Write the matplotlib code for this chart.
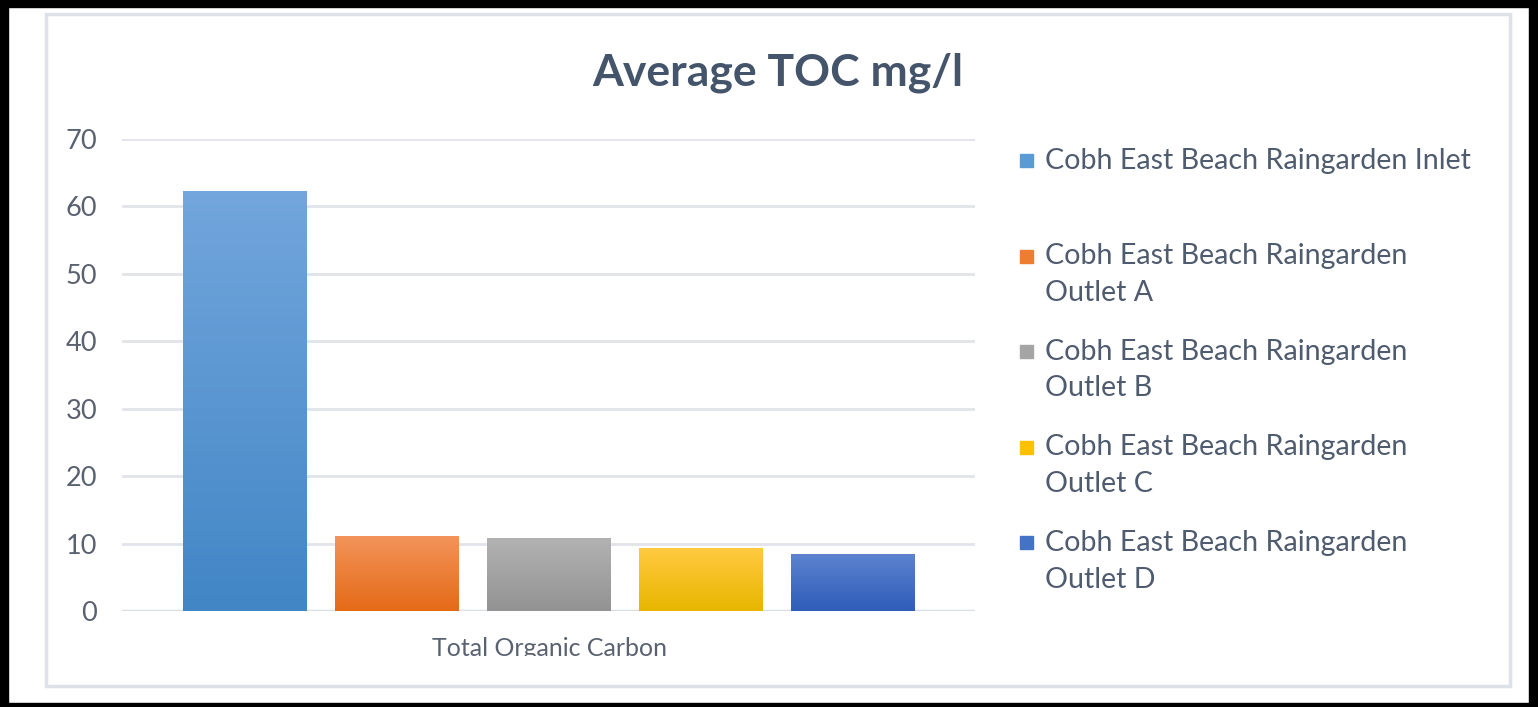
import numpy as np
import matplotlib
matplotlib.use("Agg")
import matplotlib.pyplot as plt
from matplotlib.patches import Rectangle
from matplotlib.colors import LinearSegmentedColormap
from matplotlib.transforms import Bbox

plt.rcParams['font.family'] = ['Lato', 'DejaVu Sans']

# data
series = ["Cobh East Beach Raingarden Inlet",
          "Cobh East Beach Raingarden\nOutlet A",
          "Cobh East Beach Raingarden\nOutlet B",
          "Cobh East Beach Raingarden\nOutlet C",
          "Cobh East Beach Raingarden\nOutlet D"]
toc = [62.2, 11.0, 10.7, 9.3, 8.4]
category = "Total Organic Carbon"
yticks = [0, 10, 20, 30, 40, 50, 60, 70]

# solid colours (legend) and gradient ends (top, bottom) for bars
solid = ["#5B9BD5", "#ED7D31", "#A5A5A5", "#FFC000", "#4472C4"]
grad = [("#72A6DC", "#4286C6"), ("#F4935A", "#E46A17"), ("#B2B2B2", "#939393"),
        ("#FFCA40", "#E8B600"), ("#5C82D0", "#2F5DB8")]

W, H = 1538, 707
fig = plt.figure(figsize=(W / 100, H / 100), dpi=100)

ax = fig.add_axes([122 / W, (H - 611) / H, 853 / W, 472 / H])
x = np.arange(len(toc))
bars = ax.bar(x, toc, width=0.81, color=solid, zorder=2)

# gradient fill on each bar
for b, (c1, c2) in zip(bars, grad):
    cmap = LinearSegmentedColormap.from_list("g", [c2, c1])
    g = np.linspace(0, 1, 100).reshape(-1, 1)
    ax.imshow(g, cmap=cmap, aspect="auto", origin="lower", zorder=3,
              extent=[b.get_x(), b.get_x() + b.get_width(), 0, b.get_height()])

ax.set_xlim(-0.806, len(toc) - 1 + 0.806)
ax.set_ylim(0, 70)
ax.set_yticks(yticks)
ax.set_xticks([])
for s in ax.spines.values():
    s.set_visible(False)
ax.yaxis.grid(True, color="#E1E4EA", lw=2, zorder=0)
ax.axhline(0, color="#D9DDE5", lw=2.5, zorder=1)
ax.set_axisbelow(True)
ax.tick_params(axis="y", length=0, pad=18, labelsize=19.5, labelcolor="#5A6272")

# category label, bottom part cut off like in the picture
t = fig.text(549 / W, (H - 649) / H, category, ha="center", va="center",
             fontsize=18, color="#5A6272")
t.set_clip_on(True)
t.set_clip_box(Bbox([[0, H - 656], [W, H]]))

fig.text(778 / W, (H - 73) / H, "Average TOC mg/l", ha="center", va="center",
         fontsize=32, fontweight="bold", color="#44546A")

# legend drawn by hand
for i, (lab, c) in enumerate(zip(series, solid)):
    yc = 160 + i * 95.5
    fig.patches.append(Rectangle((1020 / W, (H - yc - 7) / H), 13 / W, 13 / H,
                                 transform=fig.transFigure, color=c))
    fig.text(1045 / W, (H - yc + 12) / H, lab, ha="left", va="top",
             fontsize=20.6, color="#4F5B6E", linespacing=1.5)

# light chart border and black outer frame
fig.patches.append(Rectangle((46 / W, (H - 686) / H), 1464 / W, 672 / H,
                             transform=fig.transFigure, fill=False,
                             edgecolor="#DDE1E8", lw=2.5))
for r in [(0, 0, 8, H), (0, 0, W, 4), (1529, 0, 9, H), (0, H - 7, W, 7)]:
    fig.patches.append(Rectangle((r[0] / W, r[1] / H), r[2] / W, r[3] / H,
                                 transform=fig.transFigure, color="black"))

fig.savefig("out.png", dpi=100)
